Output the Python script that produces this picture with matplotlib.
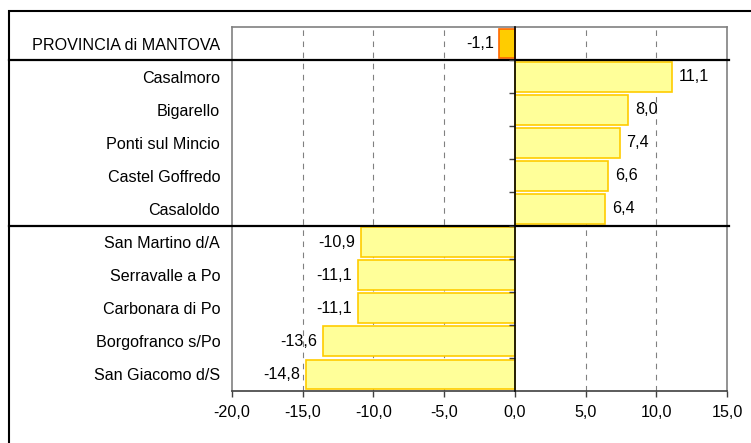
import matplotlib
matplotlib.use("Agg")
import matplotlib.pyplot as plt
from matplotlib.patches import Rectangle
from matplotlib.lines import Line2D
import matplotlib.transforms as mtransforms

categories = ["PROVINCIA di MANTOVA", "Casalmoro", "Bigarello", "Ponti sul Mincio",
              "Castel Goffredo", "Casaloldo", "San Martino d/A", "Serravalle a Po",
              "Carbonara di Po", "Borgofranco s/Po", "San Giacomo d/S"]
values = [-1.1, 11.1, 8.0, 7.4, 6.6, 6.4, -10.9, -11.1, -11.1, -13.6, -14.8]
xticks = [-20, -15, -10, -5, 0, 5, 10, 15]
group_breaks = [0.5, 5.5]

plt.rcParams['font.family'] = ['Liberation Sans', 'DejaVu Sans']
FS = 11.6

W, H = 751, 443
fig = plt.figure(figsize=(W / 100, H / 100), dpi=100)
fig.patch.set_facecolor('white')

# outer frame (extends beyond right/bottom edges)
fig.patches.append(Rectangle((9 / W, -0.2), 1.2, 1 - 11 / H + 0.2, transform=fig.transFigure,
                             fill=False, edgecolor='black', linewidth=1.5, zorder=0))

ax = fig.add_axes([232 / W, 1 - 391 / H, (727 - 232) / W, (391 - 27) / H])
ypos = list(range(len(categories)))

face = ['#FFCC00'] + ['#FFFF99'] * (len(values) - 1)
edge = ['#FF6600'] + ['#FFCC00'] * (len(values) - 1)
ax.barh(ypos, values, height=0.9, color=face, edgecolor=edge, linewidth=1.2, zorder=3)

ax.set_xlim(-20, 15)
ax.set_ylim(len(categories) - 0.5, -0.5)
ax.set_xticks(xticks)
ax.set_xticklabels([f"{t:.1f}".replace('.', ',') for t in xticks], fontsize=FS)
ax.tick_params(axis='x', direction='out', length=4, width=1, color='#404040', pad=6)
ax.set_yticks(ypos)
ax.set_yticklabels(categories, fontsize=FS)
ax.tick_params(axis='y', length=0, pad=8.5)

for t in xticks:
    if t not in (-20, 0, 15):
        ax.axvline(t, color='#808080', linestyle=(0, (5, 5)), linewidth=0.8, zorder=1)

for s in ('top', 'left', 'right'):
    ax.spines[s].set_color('#808080')
    ax.spines[s].set_linewidth(1.2)
ax.spines['bottom'].set_color('#404040')
ax.spines['bottom'].set_linewidth(1.2)

# value labels
for y, v in zip(ypos, values):
    txt = f"{v:.1f}".replace('.', ',')
    if v >= 0:
        ax.annotate(txt, (v, y), xytext=(5, 0), textcoords='offset points',
                    ha='left', va='center', fontsize=FS, zorder=5)
    else:
        ax.annotate(txt, (v, y), xytext=(-4, 0), textcoords='offset points',
                    ha='right', va='center', fontsize=FS, zorder=5)

# zero axis with ticks at category boundaries
ax2 = ax.twinx()
ax2.set_ylim(ax.get_ylim())
ax2.spines['left'].set_position(('data', 0))
ax2.spines['left'].set_color('black')
ax2.spines['left'].set_linewidth(1.2)
ax2.spines['left'].set_zorder(6)
for s in ('top', 'right', 'bottom'):
    ax2.spines[s].set_visible(False)
ax2.yaxis.set_ticks_position('left')
ax2.set_yticks([y + 0.5 for y in ypos[:-1]])
ax2.set_yticklabels([])
ax2.tick_params(axis='y', direction='out', length=4, width=1, color='#404040')
ax2.set_xlim(-20, 15)

# group separator lines spanning from outer frame to plot right edge
trans = mtransforms.blended_transform_factory(fig.transFigure, ax.transData)
for b in group_breaks:
    ln = Line2D([9 / W, 729 / W], [b, b], transform=trans, color='black',
                linewidth=1.6, clip_on=False, zorder=10)
    ax.add_line(ln)

fig.savefig("out.png", dpi=100, facecolor='white')
